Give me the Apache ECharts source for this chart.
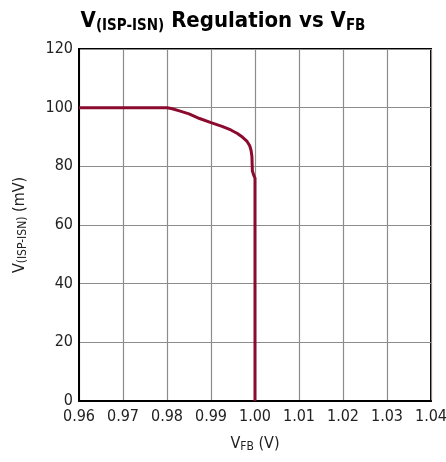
<!DOCTYPE html>
<html>
<head>
<meta charset="utf-8">
<script src="https://cdn.jsdelivr.net/npm/echarts@6/dist/echarts.min.js"></script>
<style>
  html, body { margin: 0; padding: 0; background: #fff; }
  #chart { width: 446px; height: 462px; }
</style>
</head>
<body>
<div id="chart"></div>
<script>
// Feedback voltage (V) and regulated sense voltage (mV)
const vfb = [0.960, 0.980, 0.981, 0.983, 0.985, 0.9874, 0.990, 0.9925, 0.9945, 0.9960, 0.9972, 0.9982, 0.9988, 0.9991, 0.9993, 0.9994, 0.9997, 1.000, 1.000];
const vSense = [100, 100, 99.7, 98.8, 97.9, 96.3, 94.9, 93.6, 92.4, 91.2, 89.9, 88.5, 87.0, 85.5, 83.4, 78.5, 77.0, 76.0, 0];
const xTicks = [0.96, 0.97, 0.98, 0.99, 1.00, 1.01, 1.02, 1.03, 1.04];
const yTicks = [0, 20, 40, 60, 80, 100, 120];

const FONT = '"DejaVu Sans Condensed", "Liberation Sans", Arial, sans-serif';
const chart = echarts.init(document.getElementById('chart'));

chart.setOption({
  animation: false,
  backgroundColor: '#fff',
  title: {
    text: '{m|V}{s|(ISP-ISN)}{m| Regulation vs V}{s|FB}',
    left: 'center',
    top: 1,
    textStyle: {
      rich: {
        m: { fontFamily: FONT, fontWeight: 'bold', fontSize: 22, color: '#000', lineHeight: 30 },
        s: { fontFamily: FONT, fontWeight: 'bold', fontSize: 15, color: '#000', padding: [10, 0, 0, 0], lineHeight: 30 }
      }
    }
  },
  grid: {
    left: 79, right: 15, top: 49, bottom: 61,
    outerBoundsMode: 'none',
    containLabel: false,
    show: true, borderColor: '#000', borderWidth: 2, backgroundColor: 'transparent'
  },
  xAxis: {
    type: 'value',
    min: 0.96, max: 1.04, interval: 0.01,
    name: '{m|V}{s|FB}{m| (V)}',
    nameLocation: 'middle',
    nameGap: 34,
    nameTextStyle: {
      rich: {
        m: { fontFamily: FONT, fontSize: 16, color: '#222' },
        s: { fontFamily: FONT, fontSize: 12, color: '#222', padding: [6, 0, 0, 0] }
      }
    },
    axisLine: { show: true, lineStyle: { color: '#000', width: 2 } },
    axisTick: { show: false },
    splitLine: { show: true, lineStyle: { color: '#8c8c8c', width: 1.2 } },
    axisLabel: {
      fontFamily: FONT, fontSize: 16, color: '#222', margin: 8,
      formatter: v => {
        const t = xTicks.find(k => Math.abs(k - v) < 1e-6);
        return t === undefined ? '' : t.toFixed(2);
      }
    }
  },
  yAxis: {
    type: 'value',
    min: 0, max: 120, interval: 20,
    name: '{m|V}{s|(ISP-ISN)}{m| (mV)}',
    nameLocation: 'middle',
    nameGap: 50,
    nameRotate: 90,
    nameTextStyle: {
      rich: {
        m: { fontFamily: FONT, fontSize: 16, color: '#222' },
        s: { fontFamily: FONT, fontSize: 12, color: '#222', padding: [6, 0, 0, 0] }
      }
    },
    axisLine: { show: true, lineStyle: { color: '#000', width: 2 } },
    axisTick: { show: false },
    splitLine: { show: true, lineStyle: { color: '#8c8c8c', width: 1.2 } },
    axisLabel: {
      fontFamily: FONT, fontSize: 16, color: '#222', margin: 6,
      formatter: v => (yTicks.includes(v) ? String(v) : '')
    }
  },
  series: [{
    type: 'line',
    data: vfb.map((x, i) => [x, vSense[i]]),
    showSymbol: false,
    smooth: false,
    lineStyle: { color: '#8b0a2e', width: 3 },
    z: 5
  }]
});
</script>
</body>
</html>
